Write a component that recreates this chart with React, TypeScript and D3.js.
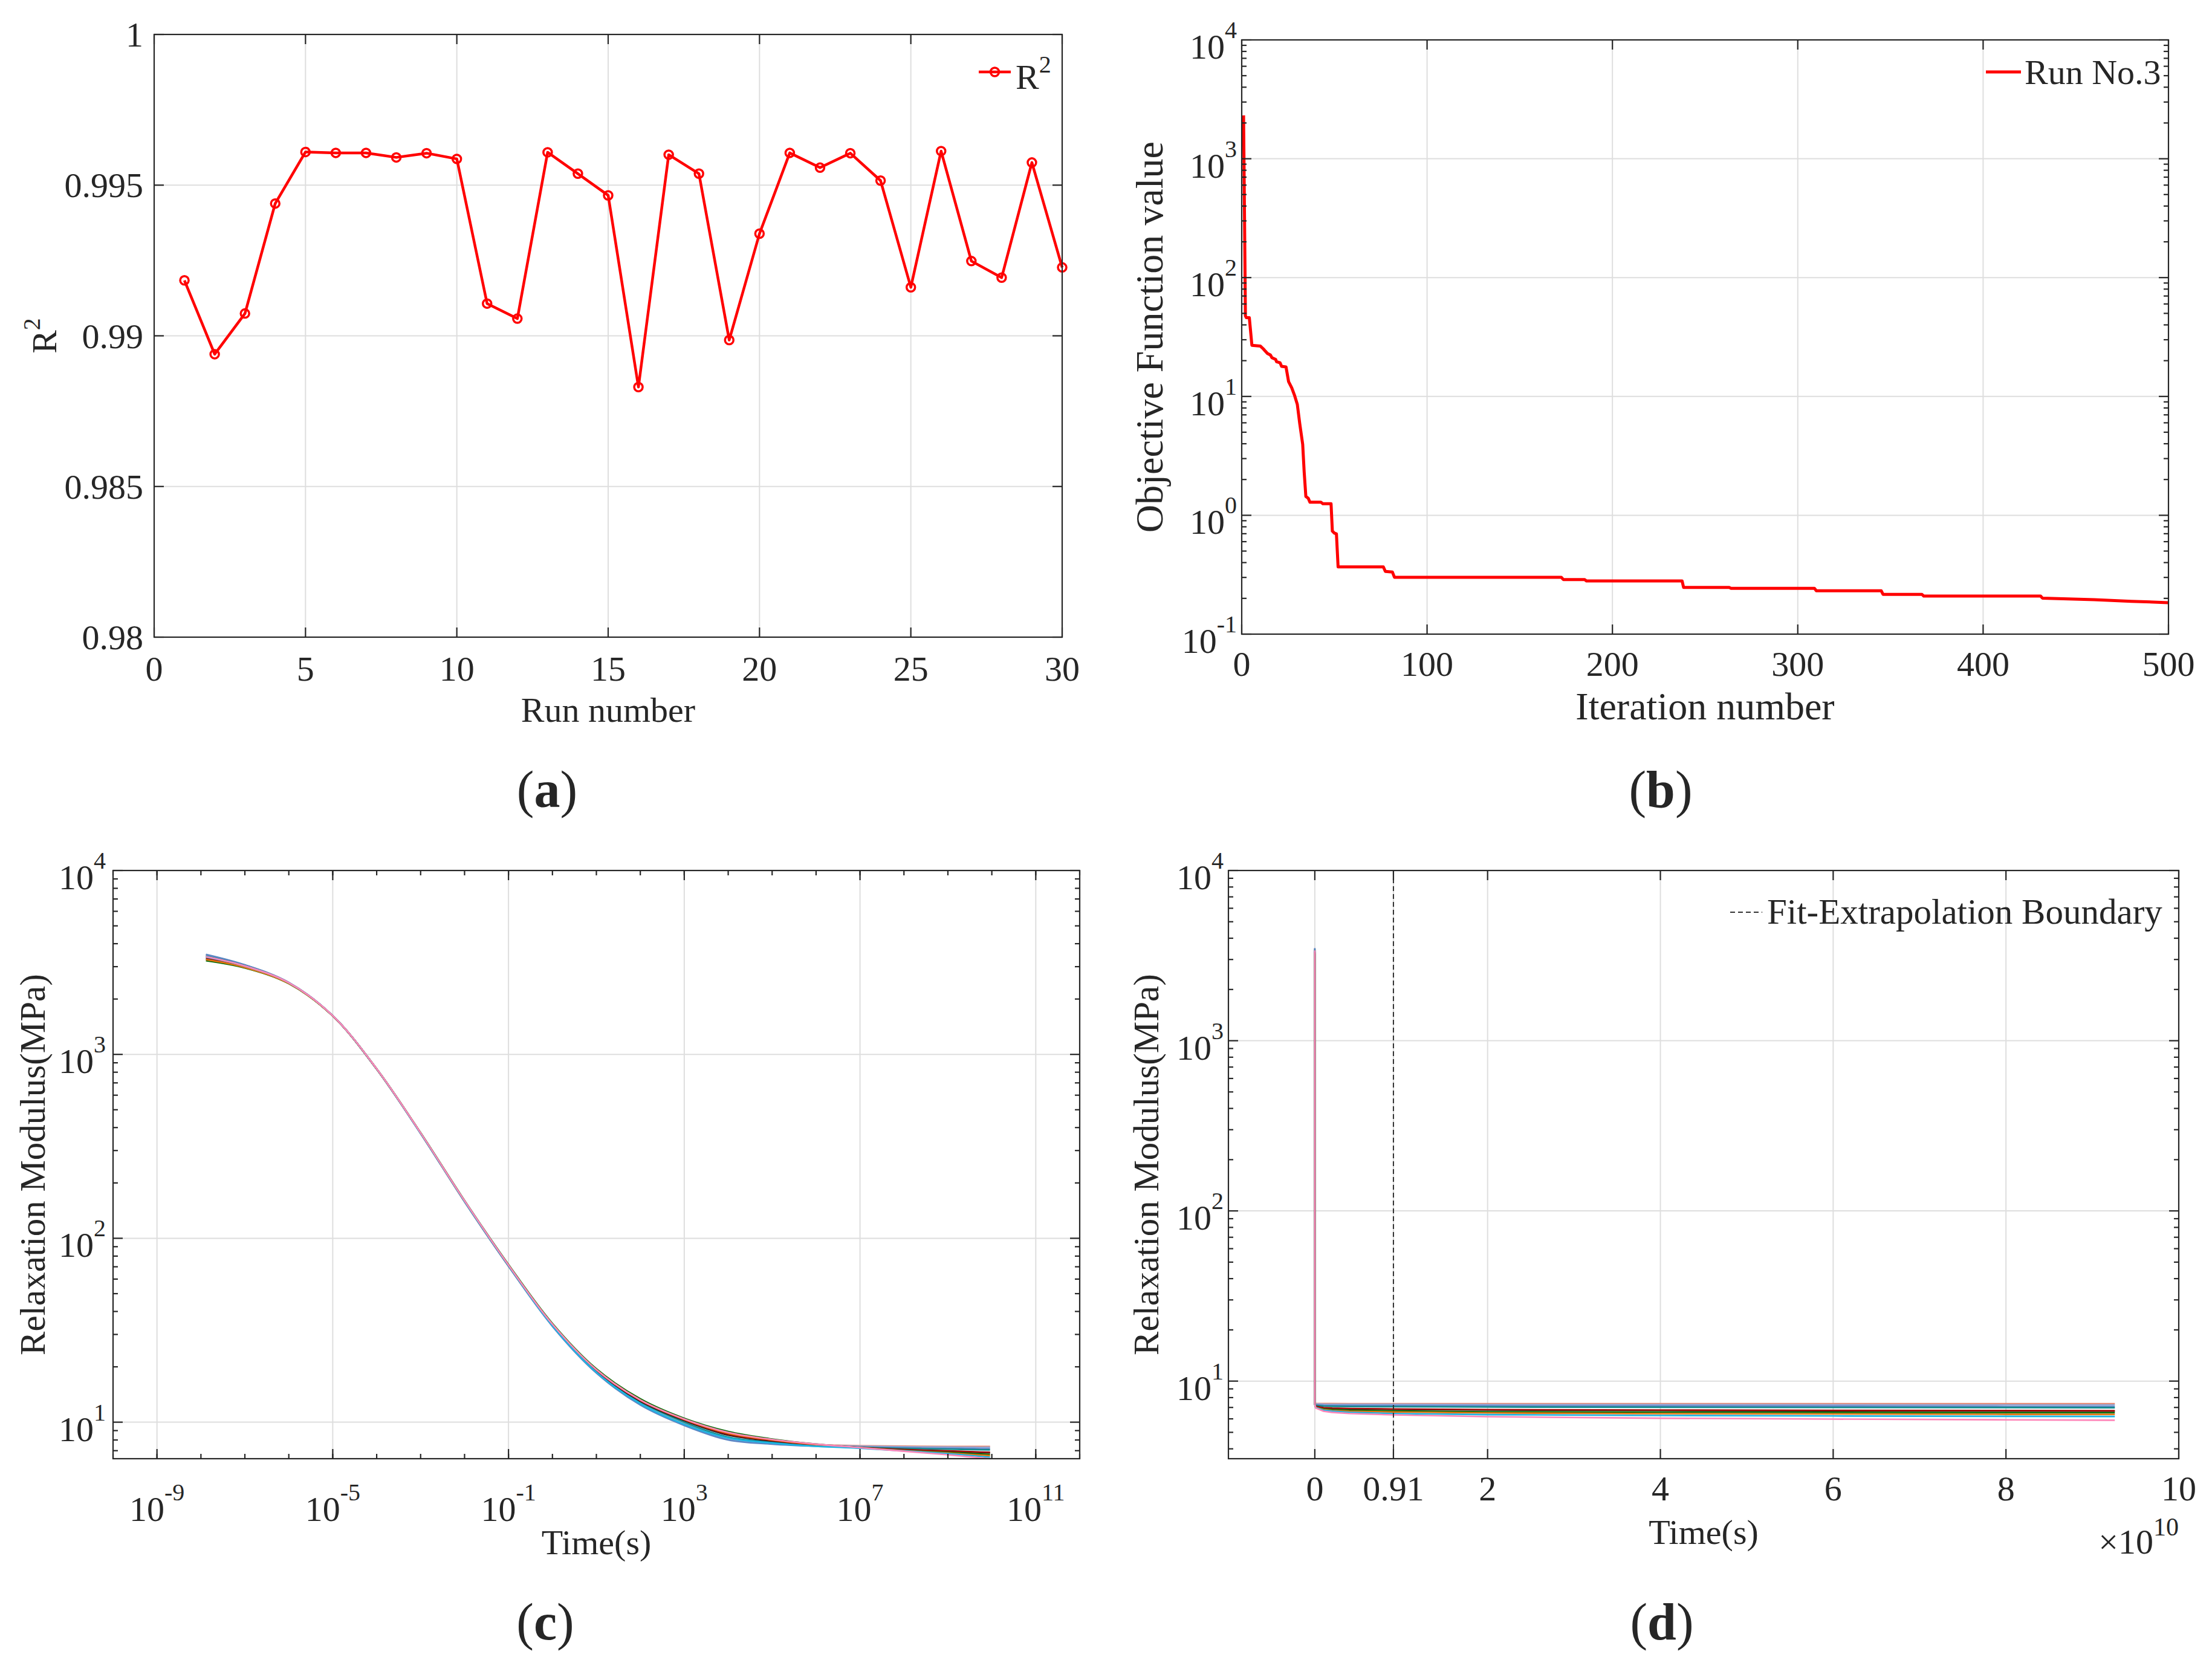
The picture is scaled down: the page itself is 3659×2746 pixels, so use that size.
import React from 'react';
import * as d3 from 'd3';

const FONT = '"Liberation Serif", "Times New Roman", Times, serif';
const INK = '#262626';
const GRID = '#dedede';
const RED = '#ff0000';

// ---------- (a) R² of every run
const runNumbers = [1, 2, 3, 4, 5, 6, 7, 8, 9, 10, 11, 12, 13, 14, 15, 16, 17, 18, 19, 20, 21, 22, 23, 24, 25, 26, 27, 28, 29, 30];
const r2Values = [
  0.99184, 0.98939, 0.99074, 0.99439, 0.9961, 0.99607, 0.99607, 0.99592, 0.99606, 0.99587,
  0.99107, 0.99057, 0.99609, 0.99538, 0.99466, 0.9883, 0.99601, 0.99538, 0.98986, 0.99339,
  0.99607, 0.99558, 0.99606, 0.99515, 0.99161, 0.99613, 0.99248, 0.99193, 0.99575, 0.99227,
];
const r2Ticks = [0.98, 0.985, 0.99, 0.995, 1];
const r2TickLabels = ['0.98', '0.985', '0.99', '0.995', '1'];
const runTicks = [0, 5, 10, 15, 20, 25, 30];

// ---------- (b) convergence of run no.3
const iterB = [
  1, 2, 2.5, 4.1, 5.5, 10.1, 11.7, 12.8, 13.9, 15.5, 16.3, 18.3, 18.8, 20.7, 21.5, 23.9, 25.3, 27, 28.6, 30,
  31.3, 32.9, 33.7, 34.6, 35.9, 36.8, 42.7, 43.8, 48.2, 48.9, 50, 51.1, 52, 76.4, 77.5, 81.3, 82.4, 172.4, 173.5, 185,
  186, 237.6, 238.4, 263, 264, 309, 310, 345, 346, 367, 368, 431, 432, 460, 480, 500,
];
const objB = [
  2317, 47.6, 46.0, 46.0, 26.9, 26.5, 25.1, 24.0, 23.0, 22.3, 21.2, 20.5, 19.6, 19.2, 17.9, 17.7, 13.3, 11.8, 10.1, 8.57,
  5.92, 3.95, 2.31, 1.44, 1.39, 1.29, 1.29, 1.25, 1.25, 0.736, 0.708, 0.698, 0.368, 0.368, 0.337, 0.333, 0.301, 0.301, 0.288, 0.288,
  0.28, 0.28, 0.247, 0.247, 0.243, 0.243, 0.232, 0.232, 0.216, 0.216, 0.209, 0.209, 0.201, 0.195, 0.189, 0.184,
];
const iterTicks = [0, 100, 200, 300, 400, 500];
const objExponents = [-1, 0, 1, 2, 3, 4];

// ---------- (c)/(d) relaxation modulus curves
const timeGrid = [
  1.3e-8, 1e-7, 1e-6, 1e-5, 1e-4, 1e-3, 1e-2, 1e-1, 1, 10, 100, 1e3, 1e4, 1e5, 1e6, 1e7, 1e8, 1e9, 2e9, 4e9,
  9.1e9, 2e10, 4e10, 6e10, 8e10, 9.26e10,
];
const fitEndTime = 9.1e9;
const modSalmon = [3480, 3060, 2460, 1625, 835, 372, 158, 70.5, 33.4, 18.7, 12.6, 9.8, 8.2, 7.75, 7.55, 7.45, 7.4, 7.38, 7.38, 7.37, 7.37, 7.37, 7.36, 7.36, 7.36, 7.36];
const modLavender = [3450, 3050, 2455, 1622, 833, 373, 159, 71, 33.6, 18.8, 12.7, 9.75, 8.1, 7.7, 7.5, 7.4, 7.35, 7.32, 7.31, 7.3, 7.3, 7.28, 7.27, 7.26, 7.25, 7.24];
const modSteel = [3500, 3070, 2465, 1620, 830, 371, 158, 70.5, 33.2, 18.5, 12.4, 9.6, 8.0, 7.6, 7.4, 7.3, 7.25, 7.2, 7.19, 7.18, 7.17, 7.15, 7.13, 7.11, 7.09, 7.08];
const modTeal = [3420, 3030, 2450, 1622, 834, 374, 160, 71.5, 33.9, 19.0, 12.9, 10.0, 8.3, 7.8, 7.5, 7.3, 7.2, 7.13, 7.11, 7.09, 7.07, 7.04, 7.02, 7.0, 6.99, 6.98];
const modBlack = [3300, 2980, 2435, 1618, 832, 373, 159, 71, 33.9, 19.1, 13.0, 10.2, 8.5, 7.9, 7.52, 7.27, 7.08, 6.95, 6.9, 6.86, 6.82, 6.76, 6.72, 6.69, 6.67, 6.66];
const modRed = [3350, 3000, 2440, 1620, 832, 373, 159, 71, 34.0, 19.2, 13.1, 10.3, 8.6, 7.95, 7.55, 7.28, 7.1, 6.98, 6.94, 6.9, 6.86, 6.8, 6.76, 6.73, 6.71, 6.7];
const modGreen = [3230, 2950, 2425, 1618, 835, 375, 160.5, 72, 34.4, 19.5, 13.4, 10.5, 8.9, 8.1, 7.6, 7.27, 7.02, 6.85, 6.8, 6.74, 6.68, 6.6, 6.57, 6.55, 6.53, 6.52];
const modOrange = [3280, 2970, 2430, 1618, 832, 373, 159, 71.3, 34.1, 19.3, 13.2, 10.35, 8.7, 8.0, 7.55, 7.26, 7.0, 6.8, 6.72, 6.65, 6.58, 6.5, 6.44, 6.41, 6.38, 6.37];
const modCyan = [3380, 3020, 2450, 1622, 833, 372, 158.5, 70.8, 33.5, 18.7, 12.6, 9.75, 8.2, 7.7, 7.4, 7.22, 6.98, 6.75, 6.66, 6.56, 6.45, 6.35, 6.28, 6.24, 6.21, 6.2];
const modPink = [3400, 3025, 2452, 1623, 835, 374, 160, 71.5, 34.1, 19.3, 13.2, 10.4, 8.8, 8.05, 7.6, 7.27, 6.95, 6.65, 6.55, 6.45, 6.33, 6.18, 6.05, 5.98, 5.92, 5.89];
const modulusSeries = [modSalmon, modLavender, modSteel, modTeal, modBlack, modRed, modGreen, modOrange, modCyan, modPink];
const modulusColors = ['#e9866c', '#93a6d8', '#5b86c5', '#138a8c', '#222222', '#a30b0b', '#0a6e0a', '#e8730f', '#1cb5e3', '#ff86b9'];

const timeLogTicks = [-9, -5, -1, 3, 7, 11];
const modExponents = [1, 2, 3, 4];
const dTicks = [0, 0.91e10, 2e10, 4e10, 6e10, 8e10, 10e10];
const dTickLabels = ['0', '0.91', '2', '4', '6', '8', '10'];

type Box = { left: number; right: number; top: number; bottom: number };
const A: Box = { left: 255, right: 1757, top: 57, bottom: 1054 };
const B: Box = { left: 2054, right: 3587, top: 66, bottom: 1049 };
const C: Box = { left: 187, right: 1786, top: 1440, bottom: 2413 };
const D: Box = { left: 2032, right: 3604, top: 1440, bottom: 2413 };

type Scale = (v: number) => number;

function Grid({ box, xs, ys, xv, yv }: { box: Box; xs: Scale; ys: Scale; xv: number[]; yv: number[] }) {
  return (
    <g stroke={GRID} strokeWidth={2}>
      {xv.map((v, i) => (
        <line key={'gx' + i} x1={xs(v)} x2={xs(v)} y1={box.top} y2={box.bottom} />
      ))}
      {yv.map((v, i) => (
        <line key={'gy' + i} x1={box.left} x2={box.right} y1={ys(v)} y2={ys(v)} />
      ))}
    </g>
  );
}

function Frame({
  box, xs, ys, xMajor, yMajor, xMinor = [], yMinor = [],
}: {
  box: Box; xs: Scale; ys: Scale; xMajor: number[]; yMajor: number[]; xMinor?: number[]; yMinor?: number[];
}) {
  const xt = (v: number, len: number, k: string) => [
    <line key={k + 'b'} x1={xs(v)} x2={xs(v)} y1={box.bottom} y2={box.bottom - len} />,
    <line key={k + 't'} x1={xs(v)} x2={xs(v)} y1={box.top} y2={box.top + len} />,
  ];
  const yt = (v: number, len: number, k: string) => [
    <line key={k + 'l'} x1={box.left} x2={box.left + len} y1={ys(v)} y2={ys(v)} />,
    <line key={k + 'r'} x1={box.right} x2={box.right - len} y1={ys(v)} y2={ys(v)} />,
  ];
  return (
    <g stroke={INK} strokeWidth={2.2} fill="none">
      {xMajor.map((v, i) => xt(v, 16, 'xM' + i))}
      {xMinor.map((v, i) => xt(v, 8, 'xm' + i))}
      {yMajor.map((v, i) => yt(v, 16, 'yM' + i))}
      {yMinor.map((v, i) => yt(v, 8, 'ym' + i))}
      <rect x={box.left} y={box.top} width={box.right - box.left} height={box.bottom - box.top} />
    </g>
  );
}

function logMinor(scale: any): number[] {
  return scale.ticks().filter((v: number) => Math.abs(Math.log10(v) - Math.round(Math.log10(v))) > 1e-6);
}

const Pow = ({ e }: { e: number }) => (
  <>
    10<tspan dy={-34} fontSize={40}>{e}</tspan>
  </>
);

export default function App() {
  const ax = d3.scaleLinear().domain([0, 30]).range([A.left, A.right]);
  const ay = d3.scaleLinear().domain([0.98, 1]).range([A.bottom, A.top]);
  const bx = d3.scaleLinear().domain([0, 500]).range([B.left, B.right]);
  const by = d3.scaleLog().domain([0.1, 1e4]).range([B.bottom, B.top]);
  const cx = d3.scaleLog().domain([1e-10, 1e12]).range([C.left, C.right]);
  const cy = d3.scaleLog().domain([6.33, 1e4]).range([C.bottom, C.top]);
  const dx = d3.scaleLinear().domain([-1e10, 10e10]).range([D.left, D.right]);
  const dy = d3.scaleLog().domain([3.5, 1e4]).range([D.bottom, D.top]);

  const aLine = d3.line<number>().x((_, i) => ax(runNumbers[i])).y((v) => ay(v));
  const bLine = d3.line<number>().x((_, i) => bx(iterB[i])).y((v) => by(v));
  const cLine = d3
    .line<number>()
    .defined((_, i) => timeGrid[i] <= fitEndTime)
    .x((_, i) => cx(timeGrid[i]))
    .y((v) => cy(v))
    .curve(d3.curveCatmullRom);
  const dLine = d3.line<number>().x((_, i) => dx(timeGrid[i])).y((v) => dy(v));

  const cDecades = d3.range(-10, 13).map((e) => Math.pow(10, e));

  return (
    <svg
      width={3659}
      height={2746}
      viewBox="0 0 3659 2746"
      style={{ position: 'absolute', left: 0, top: 0, background: '#fff' }}
      fontFamily={FONT}
      fill={INK}
    >
      <rect x={0} y={0} width={3659} height={2746} fill="#fff" />

      {/* ---------------- (a) ---------------- */}
      <Grid box={A} xs={ax} ys={ay} xv={runTicks.slice(1, -1)} yv={r2Ticks.slice(1, -1)} />
      <path d={aLine(r2Values) || ''} fill="none" stroke={RED} strokeWidth={4.5} strokeLinejoin="round" />
      {r2Values.map((v, i) => (
        <circle key={'m' + i} cx={ax(runNumbers[i])} cy={ay(v)} r={7} fill="none" stroke={RED} strokeWidth={3.5} />
      ))}
      <Frame box={A} xs={ax} ys={ay} xMajor={runTicks} yMajor={r2Ticks} />
      <g fontSize={58}>
        {r2Ticks.map((v, i) => (
          <text key={'ay' + i} x={A.left - 18} y={ay(v) + 20} textAnchor="end">{r2TickLabels[i]}</text>
        ))}
        {runTicks.map((v) => (
          <text key={'ax' + v} x={ax(v)} y={A.bottom + 72} textAnchor="middle">{v}</text>
        ))}
        <text x={(A.left + A.right) / 2} y={1194} textAnchor="middle">Run number</text>
        <text transform={`translate(93,${(A.top + A.bottom) / 2}) rotate(-90)`} textAnchor="middle">
          R<tspan dy={-27} fontSize={40}>2</tspan>
        </text>
        {/* legend */}
        <line x1={1619} x2={1672} y1={119} y2={119} stroke={RED} strokeWidth={4.5} />
        <circle cx={1645.5} cy={119} r={7} fill="none" stroke={RED} strokeWidth={3.5} />
        <text x={1680} y={147}>
          R<tspan dy={-27} fontSize={40}>2</tspan>
        </text>
      </g>

      {/* ---------------- (b) ---------------- */}
      <Grid box={B} xs={bx} ys={by} xv={iterTicks.slice(1, -1)} yv={[1, 10, 100, 1000]} />
      <path d={bLine(objB) || ''} fill="none" stroke={RED} strokeWidth={5} strokeLinejoin="round" />
      <Frame box={B} xs={bx} ys={by} xMajor={iterTicks} yMajor={objExponents.map((e) => Math.pow(10, e))} yMinor={logMinor(by)} />
      <g fontSize={58}>
        {objExponents.map((e) => (
          <text key={'by' + e} x={B.left - 8} y={by(Math.pow(10, e)) + 31} textAnchor="end">
            <Pow e={e} />
          </text>
        ))}
        {iterTicks.map((v) => (
          <text key={'bx' + v} x={bx(v)} y={B.bottom + 69} textAnchor="middle">{v}</text>
        ))}
        <text x={(B.left + B.right) / 2} y={1190} textAnchor="middle" fontSize={64}>Iteration number</text>
        <text transform={`translate(1923,${(B.top + B.bottom) / 2}) rotate(-90)`} textAnchor="middle" fontSize={64}>
          Objective Function value
        </text>
        <line x1={3285} x2={3343} y1={119} y2={119} stroke={RED} strokeWidth={5} />
        <text x={3349} y={139}>Run No.3</text>
      </g>

      {/* ---------------- (c) ---------------- */}
      <Grid box={C} xs={cx} ys={cy} xv={timeLogTicks.map((e) => Math.pow(10, e))} yv={[10, 100, 1000]} />
      {modulusSeries.map((s, i) => (
        <path key={'c' + i} d={cLine(s) || ''} fill="none" stroke={modulusColors[i]} strokeWidth={2.6} />
      ))}
      <Frame
        box={C}
        xs={cx}
        ys={cy}
        xMajor={timeLogTicks.map((e) => Math.pow(10, e))}
        xMinor={cDecades}
        yMajor={modExponents.map((e) => Math.pow(10, e))}
        yMinor={logMinor(cy)}
      />
      <g fontSize={58}>
        {modExponents.map((e) => (
          <text key={'cy' + e} x={C.left - 12} y={cy(Math.pow(10, e)) + 31} textAnchor="end">
            <Pow e={e} />
          </text>
        ))}
        {timeLogTicks.map((e) => (
          <text key={'cx' + e} x={cx(Math.pow(10, e))} y={C.bottom + 103} textAnchor="middle">
            <Pow e={e} />
          </text>
        ))}
        <text x={(C.left + C.right) / 2} y={2571} textAnchor="middle">Time(s)</text>
        <text transform={`translate(74,${(C.top + C.bottom) / 2}) rotate(-90)`} textAnchor="middle" fontSize={59}>
          Relaxation Modulus(MPa)
        </text>
      </g>

      {/* ---------------- (d) ---------------- */}
      <Grid box={D} xs={dx} ys={dy} xv={dTicks.slice(0, -1)} yv={[10, 100, 1000]} />
      {modulusSeries.map((s, i) => (
        <path key={'d' + i} d={dLine(s) || ''} fill="none" stroke={modulusColors[i]} strokeWidth={2.6} />
      ))}
      <line x1={dx(fitEndTime)} x2={dx(fitEndTime)} y1={D.top} y2={D.bottom} stroke="#333" strokeWidth={2} strokeDasharray="8,5" />
      <Frame
        box={D}
        xs={dx}
        ys={dy}
        xMajor={dTicks}
        yMajor={modExponents.map((e) => Math.pow(10, e))}
        yMinor={logMinor(dy)}
      />
      <g fontSize={58}>
        {modExponents.map((e) => (
          <text key={'dy' + e} x={D.left - 8} y={dy(Math.pow(10, e)) + 31} textAnchor="end">
            <Pow e={e} />
          </text>
        ))}
        {dTicks.map((v, i) => (
          <text key={'dx' + i} x={dx(v)} y={D.bottom + 69} textAnchor="middle">{dTickLabels[i]}</text>
        ))}
        <text x={(D.left + D.right) / 2} y={2554} textAnchor="middle">Time(s)</text>
        <text x={D.right} y={2570} textAnchor="end">
          ×10<tspan dy={-30} fontSize={42}>10</tspan>
        </text>
        <text transform={`translate(1916,${(D.top + D.bottom) / 2}) rotate(-90)`} textAnchor="middle" fontSize={59}>
          Relaxation Modulus(MPa)
        </text>
        <line x1={2862} x2={2915} y1={1509} y2={1509} stroke="#333" strokeWidth={2} strokeDasharray="8,5" />
        <text x={2923} y={1528} fontSize={59}>Fit-Extrapolation Boundary</text>
      </g>

      {/* ---------------- panel captions ---------------- */}
      <g fontSize={86} textAnchor="middle">
        {[
          ['a', 905, 1335],
          ['b', 2747, 1335],
          ['c', 902, 2712],
          ['d', 2749, 2712],
        ].map(([t, x, y]) => (
          <text key={t as string} x={x as number} y={y as number}>
            (<tspan fontWeight="bold">{t}</tspan>)
          </text>
        ))}
      </g>
    </svg>
  );
}
